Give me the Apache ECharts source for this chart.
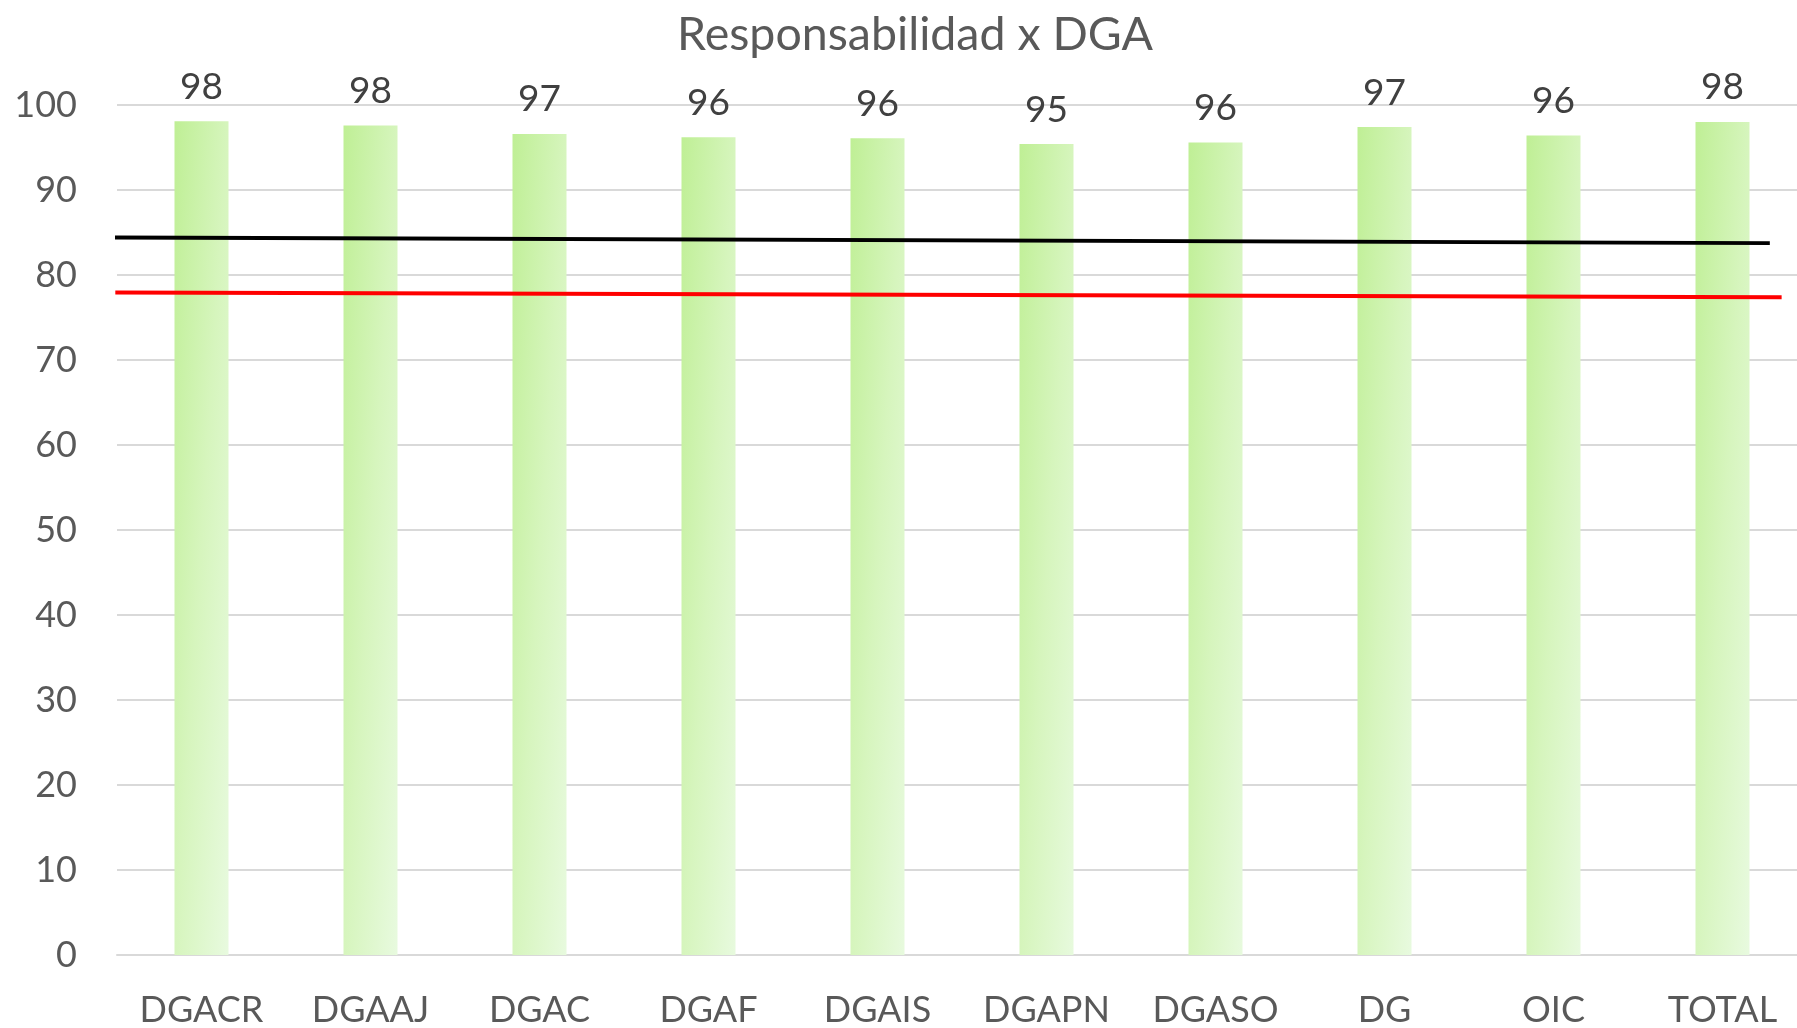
<!DOCTYPE html>
<html>
<head>
<meta charset="utf-8">
<script src="https://cdn.jsdelivr.net/npm/echarts@6/dist/echarts.min.js"></script>
<style>
html,body{margin:0;padding:0;background:#fff;}
#chart{width:1797px;height:1028px;}
</style>
</head>
<body>
<div id="chart"></div>
<script>
// ---- data ----
var titleText = 'Responsabilidad x DGA';
var categories = ['DGACR','DGAAJ','DGAC','DGAF','DGAIS','DGAPN','DGASO','DG','OIC','TOTAL'];
var values = [98.1, 97.6, 96.6, 96.2, 96.1, 95.4, 95.6, 97.4, 96.4, 98.0];
var yTicks = {min: 0, max: 100, step: 10};
// reference lines drawn across the chart (x in category-index units)
var blackLine = [[-0.53, 84.4], [9.28, 83.75]];
var redLine = [[-0.51, 77.95], [9.35, 77.38]];

var chart = echarts.init(document.getElementById('chart'));
var FONT = 'Lato';
chart.setOption({
  backgroundColor: '#ffffff',
  animation: false,
  title: {
    text: titleText,
    left: 915,
    top: 11,
    padding: 0,
    textAlign: 'center',
    textStyle: {fontFamily: FONT, fontSize: 46.5, fontWeight: 'normal', color: '#595959'}
  },
  grid: {left: 117, right: -10, top: 105, bottom: 73, containLabel: false, outerBoundsMode: 'none'},
  xAxis: [{
    type: 'category',
    data: categories,
    axisLine: {lineStyle: {color: '#d9d9d9', width: 2}},
    axisTick: {show: false},
    axisLabel: {fontFamily: FONT, fontSize: 36, color: '#595959', margin: 37.5}
  }, {
    type: 'value',
    min: -0.5, max: 9.5,
    show: false
  }],
  yAxis: {
    type: 'value',
    min: yTicks.min, max: yTicks.max, interval: yTicks.step,
    axisLine: {show: false},
    axisTick: {show: false},
    splitLine: {lineStyle: {color: '#d9d9d9', width: 2}},
    axisLabel: {fontFamily: FONT, fontSize: 36, color: '#595959', margin: 40}
  },
  series: [{
    type: 'bar',
    xAxisIndex: 0,
    data: values,
    barWidth: 54,
    itemStyle: {
      color: new echarts.graphic.LinearGradient(0, 0, 2, 0.0085, [
        {offset: 0, color: '#bfef95'},
        {offset: 0.5, color: '#d6f5bd'},
        {offset: 1, color: '#e8fadf'}
      ])
    },
    label: {
      show: true,
      position: 'top',
      distance: 16,
      fontFamily: FONT, fontSize: 37, color: '#404040',
      formatter: function (p) { return Math.round(p.value); }
    }
  }, {
    type: 'line',
    xAxisIndex: 1,
    data: blackLine,
    symbol: 'none',
    clip: false,
    silent: true,
    lineStyle: {color: '#000000', width: 4}
  }, {
    type: 'line',
    xAxisIndex: 1,
    data: redLine,
    symbol: 'none',
    clip: false,
    silent: true,
    lineStyle: {color: '#ff0000', width: 4}
  }]
});
</script>
</body>
</html>
